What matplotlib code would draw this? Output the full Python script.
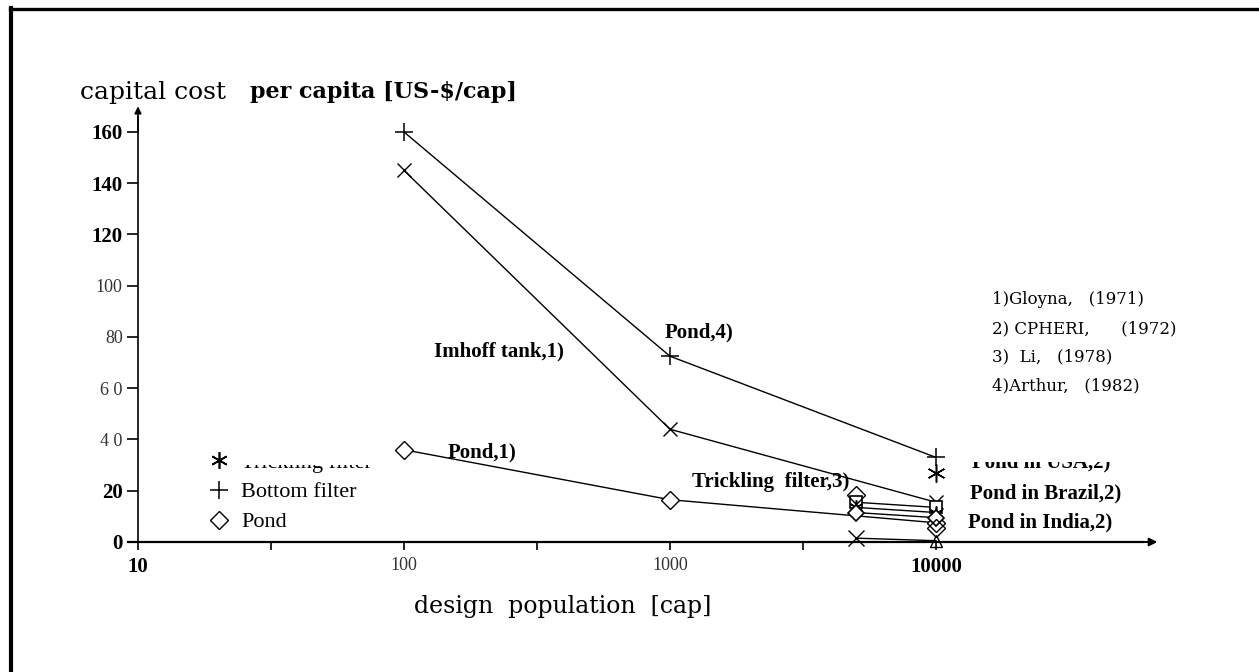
import matplotlib.pyplot as plt
from matplotlib.lines import Line2D
from matplotlib.ticker import NullFormatter
from matplotlib.transforms import Bbox

# values
pop = [100, 1000, 10000]
pond_arthur = [160, 72.5, 33]      # "+"  Pond,4)
imhoff_gloyna = [145, 44, 15.5]    # "x"  Imhoff tank,1)
pond_gloyna = [36, 16.5, 7.5]      # diamond  Pond,1)

pop_pair = [5000, 10000]
pond_brazil = [15.5, 13.5]
trickling_li = [13.5, 11.5]
pond_india = [11.5, 9.5]
pond_low = [1.5, 0.5]
pond_extra = [18.5, 5.5]
pop_usa = [10000]
pond_usa = [27]

yticks = [0, 20, 40, 60, 80, 100, 120, 140, 160]
ytick_labels = ['0', '20', '4 0', '6 0', '80', '100', '120', '140', '160']
ytick_bold = [True, True, False, False, False, False, True, True, True]
xticks = [10, 100, 1000, 10000]
xtick_labels = ['10', '100', '1000', '10000']
xtick_bold = [True, False, False, True]
xminor = [31.6, 316, 3162]
refs = ['1)Gloyna,   (1971)', '2) CPHERI,      (1972)', '3)  Li,   (1978)', '4)Arthur,   (1982)']

W, H = 1259, 672
SERIF = 'Liberation Serif'
WIDE = 'DejaVu Serif'


def px(x, y):
    return x / W, 1 - y / H


fig = plt.figure(figsize=(W / 100, H / 100), dpi=100)
fig.patch.set_facecolor('white')
ax = fig.add_axes([0, 0, 1, 1])
ax.patch.set_visible(False)
ax.set_xscale('log')
# 266 px per decade, x=10 at px 138; y=0 at px 542, 2.5625 px per unit
ax.set_xlim(10 ** 0.4812, 10 ** 5.2143)
ax.set_ylim(-50.73, 211.5)

for s in ['top', 'right']:
    ax.spines[s].set_visible(False)
ax.spines['left'].set_position(('data', 10))
ax.spines['bottom'].set_position(('data', 0))
ax.spines['left'].set_bounds(0, 166)
ax.spines['bottom'].set_bounds(9.2, 60000)
ax.spines['left'].set_linewidth(1.2)
ax.spines['bottom'].set_linewidth(1.6)

ax.annotate('', xy=(10, 170), xytext=(10, 160),
            arrowprops=dict(arrowstyle='-|>', color='k', lw=1.2, mutation_scale=10,
                            shrinkA=0, shrinkB=0))
ax.annotate('', xy=(68000, 0), xytext=(50000, 0),
            arrowprops=dict(arrowstyle='-|>', color='k', lw=1.4, mutation_scale=12,
                            shrinkA=0, shrinkB=0))

ax.set_yticks(yticks, ytick_labels)
ax.tick_params(axis='y', direction='out', length=8, width=1.2, pad=3)
for lbl, b in zip(ax.get_yticklabels(), ytick_bold):
    lbl.set_family(SERIF)
    lbl.set_fontweight('bold' if b else 'normal')
    lbl.set_fontsize(15 if b else 13)
    lbl.set_color('k' if b else '#333333')

ax.set_xticks(xticks, xtick_labels)
ax.set_xticks(xminor, minor=True)
ax.xaxis.set_minor_formatter(NullFormatter())
ax.tick_params(axis='x', which='both', direction='out', length=6, width=1.2, pad=5)
for lbl, b in zip(ax.get_xticklabels(), xtick_bold):
    lbl.set_family(SERIF)
    lbl.set_fontweight('bold' if b else 'normal')
    lbl.set_fontsize(15 if b else 13)
    lbl.set_color('k' if b else '#333333')

line_kw = dict(color='k', lw=1.0, mfc='white', mec='k', clip_on=False)
ax.plot(pop, pond_arthur, marker='+', ms=13, mew=1.1, **line_kw)
ax.plot(pop, imhoff_gloyna, marker='x', ms=10, mew=1.0, **line_kw)
ax.plot(pop, pond_gloyna, marker='D', ms=9, mew=1.0, **line_kw)
ax.plot(pop_pair, pond_brazil, marker='s', ms=9, mew=1.2, **line_kw)
ax.plot(pop_pair, trickling_li, marker=(6, 2, 0), ms=10, mew=1.2, **line_kw)
ax.plot(pop_pair, pond_india, marker='D', ms=8, mew=1.2, **line_kw)
ax.plot(pop_pair, pond_low, **line_kw)
ax.plot(pop_pair[:1], pond_low[:1], marker='x', ms=12, mew=1.0, ls='none', color='k')
ax.plot(pop_pair[1:], pond_low[1:], marker='^', ms=9, mew=1.0, ls='none', mfc='none', mec='k')
ax.plot(pop_pair, pond_extra, marker='D', ms=9, mew=1.0, ls='none', mfc='none', mec='k')
ax.plot(pop_usa, pond_usa, marker=(6, 2, 0), ms=13, mew=1.1, ls='none', color='k')

# labels beside the curves
lab_kw = dict(family=SERIF, fontsize=15, fontweight='bold', va='center', ha='left')
fig.text(*px(434, 351), 'Imhoff tank,1)', **lab_kw)
fig.text(*px(665, 332), 'Pond,4)', **lab_kw)
fig.text(*px(448, 452), 'Pond,1)', **lab_kw)
fig.text(*px(692, 482), 'Trickling  filter,3)', **lab_kw)
fig.text(*px(970, 493), 'Pond in Brazil,2)', **lab_kw)
fig.text(*px(968, 522), 'Pond in India,2)', **lab_kw)
# this label is half hidden in the scan
usa = fig.text(*px(972, 467), 'Pond in USA,2)', family=SERIF, fontsize=15,
               fontweight='bold', va='baseline', ha='left')
usa.set_clip_box(Bbox.from_extents(0, 0, W, H - 462))
usa.set_clip_on(True)

# source list
for i, r in enumerate(refs):
    fig.text(*px(992, 300 + 28.5 * i), r, family=WIDE, fontsize=12, va='center', ha='left')

# title and x label
fig.text(*px(80, 92), 'capital cost', family=WIDE, fontsize=18, va='center', ha='left')
fig.text(*px(250, 92), 'per capita [US-$/cap]', family=WIDE, fontsize=16,
         fontweight='bold', va='center', ha='left')
fig.text(*px(563, 606), 'design  population  [cap]', family=WIDE, fontsize=17,
         va='center', ha='center')

# legend
handles = [Line2D([], [], color='k', marker=(6, 2, 0), ms=12, mew=1.2, ls='none'),
           Line2D([], [], color='k', marker='+', ms=13, mew=1.1, ls='none'),
           Line2D([], [], color='k', marker='D', ms=9, mew=1.0, mfc='white', ls='none')]
leg = ax.legend(handles, ['Trickling filter', 'Bottom filter', 'Pond'],
                loc='upper left', bbox_to_anchor=px(208, 452), bbox_transform=fig.transFigure,
                frameon=False, borderpad=0, borderaxespad=0, handlelength=1.0,
                handletextpad=0.5, labelspacing=0.42,
                prop=dict(family=SERIF, size=16))
t0 = leg.get_texts()[0]
t0.set_clip_box(Bbox.from_extents(0, 0, W, H - 465))
t0.set_clip_on(True)

# scanned page frame
fig.add_artist(Line2D([10 / W, 1], [1 - 9 / H, 1 - 9 / H], color='k', lw=2.4,
                      transform=fig.transFigure))
fig.add_artist(Line2D([11 / W, 11 / W], [0, 1 - 8 / H], color='k', lw=3.0,
                      transform=fig.transFigure))

fig.savefig('out.png', dpi=100)
